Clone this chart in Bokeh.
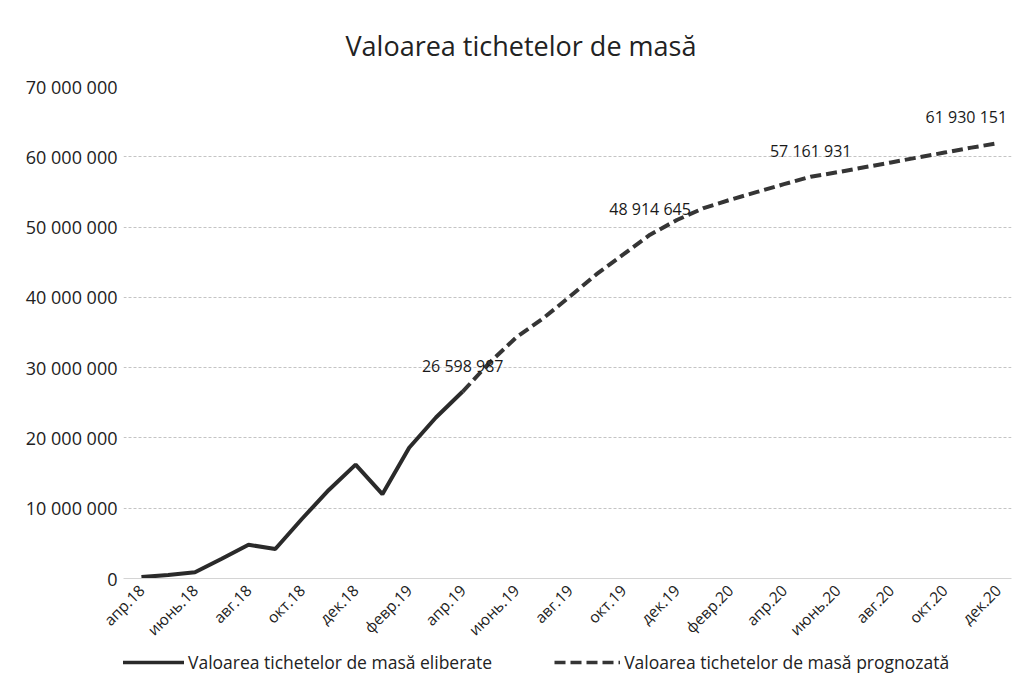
from bokeh.plotting import figure
from bokeh.models import Range1d, FixedTicker, Legend, LegendItem, ColumnDataSource
from bokeh.layouts import column
from bokeh.embed import file_html
from bokeh.resources import INLINE
from bokeh.core.properties import value
import math

# ---- data ----
months = ["апр.18", "май.18", "июнь.18", "июль.18", "авг.18", "сент.18", "окт.18", "нояб.18",
          "дек.18", "янв.19", "февр.19", "март.19", "апр.19", "май.19", "июнь.19", "июль.19",
          "авг.19", "сент.19", "окт.19", "нояб.19", "дек.19", "янв.20", "февр.20", "март.20",
          "апр.20", "май.20", "июнь.20", "июль.20", "авг.20", "сент.20", "окт.20", "нояб.20", "дек.20"]

actual_values = [200000, 500000, 900000, 2800000, 4800000, 4200000, 8500000, 12600000,
                 16200000, 12000000, 18600000, 22900000, 26598987]

forecast_values = [26598987, 30700000, 34300000, 37000000, 40100000, 43300000, 46100000,
                   48914645, 51000000, 52700000, 53900000, 55000000, 56100000, 57161931,
                   57800000, 58500000, 59200000, 59900000, 60600000, 61300000, 61930151]

labelled_months = ["апр.19", "нояб.19", "май.20", "дек.20"]
shown_ticks = months[::2]
y_ticks = [0, 10000000, 20000000, 30000000, 40000000, 50000000, 60000000, 70000000]

title_text = "Valoarea tichetelor de masă"
actual_name = "Valoarea tichetelor de masă eliberate"
forecast_name = "Valoarea tichetelor de masă prognozată"

# ---- build ----
idx = {m: i for i, m in enumerate(months)}
actual_x = list(range(len(actual_values)))
forecast_start = len(actual_values) - 1
forecast_x = list(range(forecast_start, forecast_start + len(forecast_values)))
all_vals = dict(zip(forecast_x, forecast_values))
all_vals.update(dict(zip(actual_x, actual_values)))

FONT = "Open Sans"
TXT = "#222222"
C_ACT = "#2a2a2a"
C_FC = "#353535"
FC_DASH = "11 5"

p = figure(width=1012, height=650, output_backend="svg", toolbar_location=None,
           x_range=Range1d(-0.67, 32.5), y_range=Range1d(0, 70000000),
           min_border_left=123, min_border_right=1, min_border_top=86, min_border_bottom=66,
           background_fill_color="white", border_fill_color="white")
p.outline_line_color = None

p.title.text = title_text
p.title.align = "left"
p.title.offset = 222
p.title.text_font = FONT
p.title.text_font_size = "27px"
p.title.text_font_style = "normal"
p.title.text_color = TXT
p.title.standoff = 45

# grid
p.xgrid.grid_line_color = None
p.ygrid.ticker = FixedTicker(ticks=y_ticks)
p.ygrid.grid_line_color = "#c4c4c4"
p.ygrid.grid_line_dash = "3 2"
p.ygrid.grid_line_width = 1

# axes
p.yaxis.ticker = FixedTicker(ticks=y_ticks)
p.yaxis.major_label_overrides = {v: f"{v:,}".replace(",", " ") for v in y_ticks}
p.yaxis.axis_line_color = None
p.yaxis.major_tick_line_color = None
p.yaxis.major_tick_out = 0
p.yaxis.major_tick_in = 0
p.yaxis.minor_tick_line_color = None
p.yaxis.major_label_standoff = 6
p.yaxis.major_label_text_font = FONT
p.yaxis.major_label_text_font_size = "18px"
p.yaxis.major_label_text_color = TXT

xt = [idx[m] for m in shown_ticks]
p.xaxis.ticker = FixedTicker(ticks=xt)
p.xaxis.major_label_overrides = {i: months[i] for i in xt}
p.xaxis.major_label_orientation = math.pi / 4
p.xaxis.axis_line_color = "#d4d4d4"
p.xaxis.major_tick_line_color = None
p.xaxis.major_tick_out = 0
p.xaxis.major_tick_in = 0
p.xaxis.minor_tick_line_color = None
p.xaxis.major_label_standoff = 9
p.xaxis.major_label_text_font = FONT
p.xaxis.major_label_text_font_size = "15.5px"
p.xaxis.major_label_text_color = TXT

# lines
r1 = p.line(actual_x, actual_values, line_color=C_ACT, line_width=4)
r2 = p.line(forecast_x, forecast_values, line_color=C_FC, line_width=4, line_dash=FC_DASH)

# data labels
lx = [idx[m] for m in labelled_months]
ly = [all_vals[i] for i in lx]
lt = [f"{v:,}".replace(",", " ") for v in ly]
src_a = ColumnDataSource(dict(x=lx[:-1], y=ly[:-1], t=lt[:-1]))
src_b = ColumnDataSource(dict(x=lx[-1:], y=ly[-1:], t=lt[-1:]))
common = dict(text_baseline="bottom", y_offset=-15, text_font=value(FONT),
              text_font_size="16px", text_color="#1a1a1a")
p.text(x="x", y="y", text="t", source=src_a, text_align="center", **common)
p.text(x="x", y="y", text="t", source=src_b, text_align="right", x_offset=9, **common)

# legend strip (separate figure below the chart; its series copies lie outside its view)
lg = figure(width=1012, height=24, output_backend="svg", toolbar_location=None,
            x_range=Range1d(0, 1), y_range=Range1d(-2, -1),
            min_border_left=0, min_border_right=0, min_border_top=0, min_border_bottom=0,
            background_fill_color="white", border_fill_color="white")
lg.outline_line_color = None
lg.axis.visible = False
lg.grid.grid_line_color = None
k1 = lg.line(actual_x, actual_values, line_color=C_ACT, line_width=3.5)
k2 = lg.line(forecast_x, forecast_values, line_color=C_FC, line_width=3.5, line_dash=FC_DASH)
legend = Legend(items=[LegendItem(label=actual_name, renderers=[k1]),
                       LegendItem(label=forecast_name, renderers=[k2])],
                orientation="horizontal", location=(-5, 0),
                glyph_width=66, glyph_height=18, label_standoff=4, spacing=62,
                label_text_font=FONT, label_text_font_size="17.5px", label_text_color=TXT,
                border_line_color=None, background_fill_alpha=0, padding=0, margin=0)
lg.add_layout(legend, "center")

layout = column(p, lg, spacing=0)
open("out.html", "w").write(file_html(layout, INLINE))
